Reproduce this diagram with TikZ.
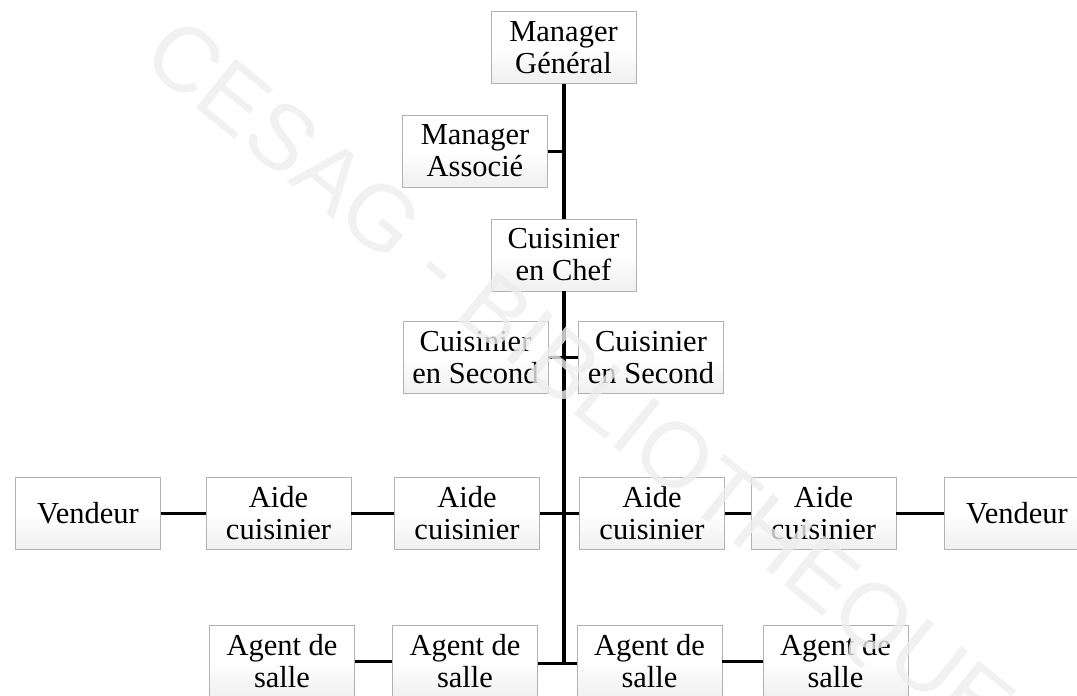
\documentclass[tikz,border=0pt]{standalone}
\usepackage{fontspec}
\setmainfont{Liberation Serif}
\setsansfont{Liberation Sans}
\begin{document}
\begin{tikzpicture}[x=1pt,y=-1pt,
  box/.style={draw=gray!60, line width=0.9pt, top color=white, bottom color=gray!12, middle color=white,
    minimum width=145pt, minimum height=72pt, inner sep=0pt, align=center,
    font=\fontsize{30.5}{32}\selectfont},
  trunk/.style={line width=4pt, black},
  link/.style={line width=3pt, black},
  wm/.style={rotate=-39, font=\fontsize{92}{92}\selectfont\sffamily, text=gray!14, opacity=0.8}]
\useasboundingbox (0,0) rectangle (1077,696);
\clip (0,0) rectangle (1077,696);
% nodes
\node[box] (mg) at (563.5,47.5) {Manager\\Général};
\node[box] (ma) at (475,151) {Manager\\Associé};
\node[box] (cc) at (563.5,255) {Cuisinier\\en Chef};
\node[box] (sl) at (475.5,357.5) {Cuisinier\\en Second};
\node[box] (sr) at (651,357.5) {Cuisinier\\en Second};
\node[box] (vl) at (88,513.5) {Vendeur};
\node[box] (a1) at (278.5,513.5) {Aide\\cuisinier};
\node[box] (a2) at (467,513.5) {Aide\\cuisinier};
\node[box] (a3) at (652,513.5) {Aide\\cuisinier};
\node[box] (a4) at (823.5,513.5) {Aide\\cuisinier};
\node[box] (vr) at (1017,513.5) {Vendeur};
\node[box] (g1) at (282,661.5) {Agent de\\salle};
\node[box] (g2) at (465,661.5) {Agent de\\salle};
\node[box] (g3) at (649.5,661.5) {Agent de\\salle};
\node[box] (g4) at (835.5,661.5) {Agent de\\salle};
\coordinate (tb) at (563.5,663);
% connectors
\draw[trunk] (mg.south) -- (cc.north);
\draw[trunk] (cc.south) -- (tb);
\draw[link] (ma.east) -- (ma.east -| mg.south);
\draw[link] (sl.east) -- (sr.west);
\draw[link] (a2.east) -- (a3.west);
\draw[link] (vl.east) -- (a1.west);
\draw[link] (a1.east) -- (a2.west);
\draw[link] (a3.east) -- (a4.west);
\draw[link] (a4.east) -- (vr.west);
\draw[link] (g2.east |- tb) -- (g3.west |- tb);
\draw[link] (g1.east) -- (g2.west);
\draw[link] (g3.east) -- (g4.west);
% watermark
\node[wm] (wmk) at (575,385) {CESAG - BIBLIOTHEQUE};
\end{tikzpicture}
\end{document}
